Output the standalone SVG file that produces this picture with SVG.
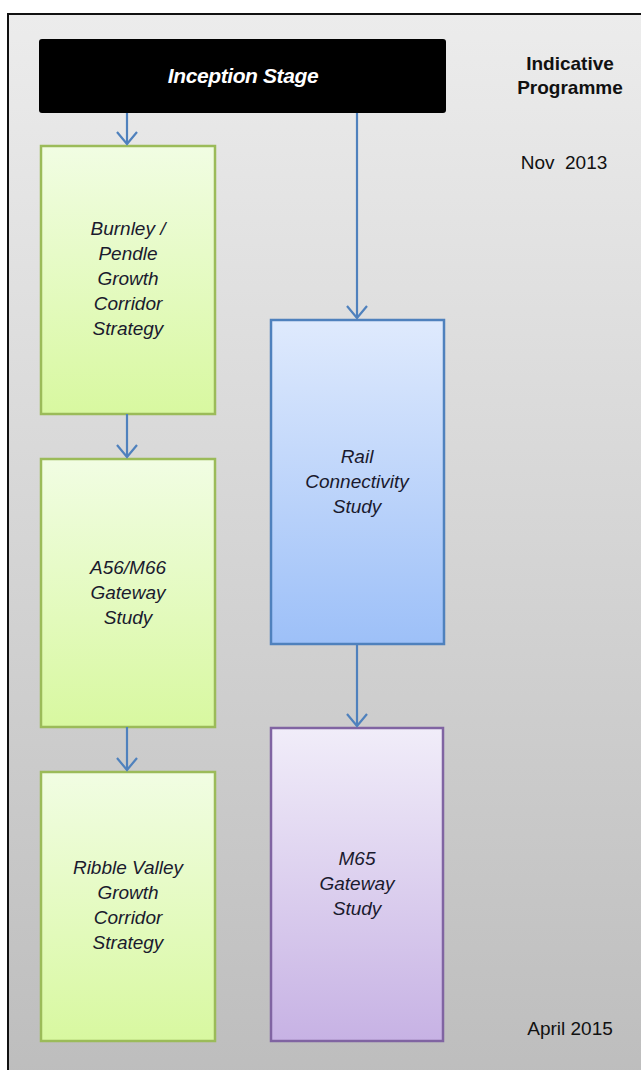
<svg xmlns="http://www.w3.org/2000/svg" width="641" height="1070" viewBox="0 0 641 1070">
<defs>
<linearGradient id="bg" x1="0" y1="0" x2="0" y2="1"><stop offset="0" stop-color="#ececec"/><stop offset="1" stop-color="#bdbdbd"/></linearGradient>
<linearGradient id="gGreen" x1="0" y1="0" x2="0" y2="1"><stop offset="0" stop-color="#f1fde3"/><stop offset="1" stop-color="#d8f8a0"/></linearGradient>
<linearGradient id="gBlue" x1="0" y1="0" x2="0" y2="1"><stop offset="0" stop-color="#dfeafd"/><stop offset="1" stop-color="#9dc0f8"/></linearGradient>
<linearGradient id="gPurple" x1="0" y1="0" x2="0" y2="1"><stop offset="0" stop-color="#f1edf9"/><stop offset="1" stop-color="#c7b2e4"/></linearGradient>
<marker id="arr" markerWidth="16" markerHeight="24" refX="14" refY="12" orient="auto" markerUnits="userSpaceOnUse" viewBox="0 0 16 24">
<path d="M2,2 L14,12 L2,22" fill="none" stroke="#4f81bd" stroke-width="2.2"/>
</marker>
<style>
.lbl{font-family:"Liberation Sans",Arial,sans-serif;font-style:italic;font-size:19px;fill:#1a1a2e;text-anchor:middle}
.side{font-family:"Liberation Sans",Arial,sans-serif;font-size:19px;fill:#111;text-anchor:middle;white-space:pre}
.green{fill:url(#gGreen);stroke:#9bbb59;stroke-width:2.5}
.blue{fill:url(#gBlue);stroke:#4f81bd;stroke-width:2.5}
.purple{fill:url(#gPurple);stroke:#8064a2;stroke-width:2.5}
.conn{fill:none;stroke:#4f81bd;stroke-width:2.2;marker-end:url(#arr)}
</style>
</defs>
<rect x="8" y="14" width="650" height="1070" fill="url(#bg)" stroke="#111" stroke-width="2"/>
<g id="inception">
<rect x="39" y="39" width="407" height="74" rx="3" fill="#000"/>
<text x="243" y="83" style="font-family:'Liberation Sans',Arial,sans-serif;font-weight:bold;font-style:italic;font-size:21px;fill:#fff;text-anchor:middle;letter-spacing:-0.4px">Inception Stage</text>
</g>
<g id="labels">
<text class="side" x="570" y="70" font-weight="bold">Indicative</text>
<text class="side" x="570" y="94" font-weight="bold">Programme</text>
<text class="side" x="564" y="169">Nov  2013</text>
<text class="side" x="570" y="1035">April 2015</text>
</g>
<g id="burnley">
<rect class="green" x="41" y="146" width="174" height="268"/>
<text class="lbl" x="128" y="235">Burnley /</text>
<text class="lbl" x="128" y="260">Pendle</text>
<text class="lbl" x="128" y="285">Growth</text>
<text class="lbl" x="128" y="310">Corridor</text>
<text class="lbl" x="128" y="335">Strategy</text>
</g>
<g id="a56">
<rect class="green" x="41" y="459" width="174" height="268"/>
<text class="lbl" x="128" y="574">A56/M66</text>
<text class="lbl" x="128" y="599">Gateway</text>
<text class="lbl" x="128" y="624">Study</text>
</g>
<g id="ribble">
<rect class="green" x="41" y="772" width="174" height="269"/>
<text class="lbl" x="128" y="874">Ribble Valley</text>
<text class="lbl" x="128" y="899">Growth</text>
<text class="lbl" x="128" y="924">Corridor</text>
<text class="lbl" x="128" y="949">Strategy</text>
</g>
<g id="rail">
<rect class="blue" x="271" y="320" width="173" height="324"/>
<text class="lbl" x="357" y="463">Rail</text>
<text class="lbl" x="357" y="488">Connectivity</text>
<text class="lbl" x="357" y="513">Study</text>
</g>
<g id="m65">
<rect class="purple" x="271" y="728" width="172" height="313"/>
<text class="lbl" x="357" y="865">M65</text>
<text class="lbl" x="357" y="890">Gateway</text>
<text class="lbl" x="357" y="915">Study</text>
</g>
<g id="connectors">
<line class="conn" x1="127" y1="113" x2="127" y2="144"/>
<line class="conn" x1="127" y1="414" x2="127" y2="457"/>
<line class="conn" x1="127" y1="727" x2="127" y2="770"/>
<line class="conn" x1="357" y1="113" x2="357" y2="318"/>
<line class="conn" x1="357" y1="644" x2="357" y2="726"/>
</g>
</svg>
